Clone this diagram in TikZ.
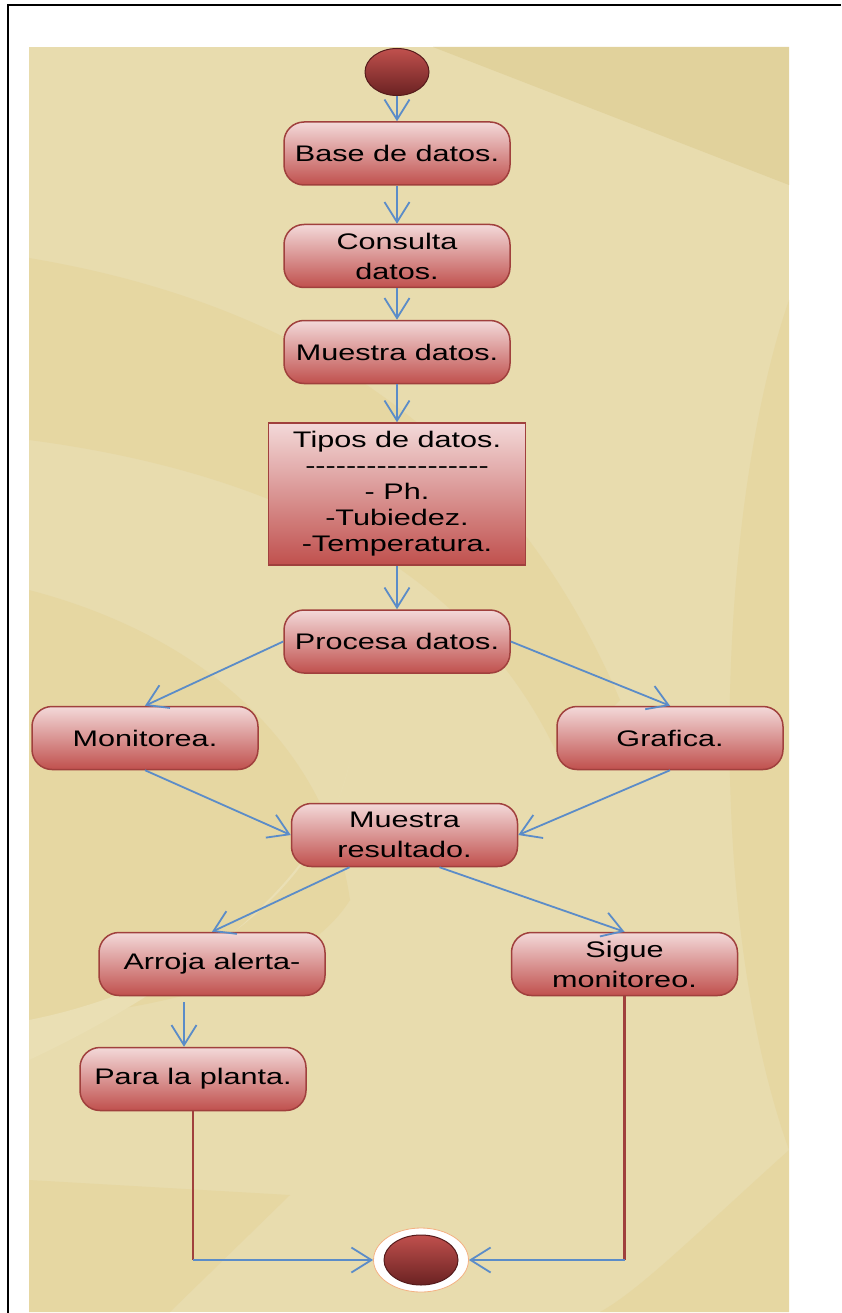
\documentclass[tikz,border=0pt]{standalone}
\usepackage{fontspec}
\newfontfamily\diafont[FakeStretch=1.36,Ligatures=TeXOff]{Liberation Sans}
\usetikzlibrary{arrows.meta,shapes.geometric,calc}
\definecolor{panel}{HTML}{E8DCAE}
\definecolor{bgdark}{HTML}{E1D29C}
\definecolor{bgmid}{HTML}{E6D7A2}
\definecolor{bglight}{HTML}{EADFB4}
\definecolor{acttop}{HTML}{F3D9D9}
\definecolor{actbot}{HTML}{C0504D}
\definecolor{actborder}{HTML}{A0403D}
\definecolor{flowblue}{HTML}{5B8CC8}
\definecolor{darkred}{HTML}{A0403D}
\definecolor{balltop}{HTML}{C0504D}
\definecolor{ballbot}{HTML}{6A2222}
\definecolor{ringcol}{HTML}{F4B183}
\tikzset{
  act/.style={rectangle, rounded corners=20pt, draw=actborder, line width=1.5pt,
    top color=acttop, bottom color=actbot, minimum width=226pt, minimum height=63pt,
    inner sep=0pt, align=center, text=black,
    font=\diafont\fontsize{22.5}{30}\selectfont},
  typebox/.style={rectangle, draw=actborder, line width=1.5pt,
    top color=acttop, bottom color=actbot, minimum width=257pt, minimum height=142pt,
    inner sep=0pt, align=center, text=black,
    font=\diafont\fontsize{22.5}{26}\selectfont},
  ball/.style={ellipse, draw=ballbot!80!black, line width=1pt, top color=balltop,
    bottom color=ballbot, inner sep=0pt},
  flow/.style={draw=flowblue, line width=1.8pt,
    -{Straight Barb[length=20pt,width=25pt]}},
  redline/.style={draw=darkred, line width=2.2pt},
}
\begin{document}
\begin{tikzpicture}[x=1pt,y=-1pt]
\useasboundingbox (0,0) rectangle (841,1313);
% frame
\draw[line width=2.5pt, black] (8,1313) -- (8,5) -- (841,5);
% panel
\fill[panel] (29,47) rectangle (789,1312);
\begin{scope}
\clip (29,47) rectangle (789,1312);
\fill[bgdark] (433,47) -- (789,47) -- (789,185) -- cycle;
\fill[bgmid] (29,258) .. controls (280,300) and (500,420) .. (620,700)
  -- (560,760) .. controls (470,560) and (260,470) .. (29,440) -- cycle;
\fill[bgmid] (29,590) .. controls (220,640) and (330,760) .. (350,900)
  .. controls (300,980) and (150,1010) .. (29,1020) -- cycle;
\fill[bglight] (29,1020) .. controls (180,990) and (320,900) .. (350,760)
  .. controls (330,870) and (200,980) .. (29,1060) -- cycle;
\fill[bgmid] (29,1180) -- (290,1195) -- (170,1312) -- (29,1312) -- cycle;
\fill[bgmid] (789,300) .. controls (720,500) and (700,900) .. (789,1150) -- cycle;
\fill[bgmid] (789,1150) .. controls (700,1230) and (640,1290) .. (600,1312) -- (789,1312) -- cycle;
\end{scope}
% nodes
\node[ball, minimum width=64pt, minimum height=47pt] (start) at (397,72) {};
\node[act] (base) at (397,153.5) {Base de datos.};
\node[act] (consulta) at (397,256) {Consulta\\datos.};
\node[act] (muestra) at (397,352) {Muestra datos.};
\node[typebox] (tipos) at (397,494) {Tipos de datos.\\------------------\\- Ph.\\-Tubiedez.\\-Temperatura.};
\node[act] (procesa) at (397,641.5) {Procesa datos.};
\node[act] (monitorea) at (145,738) {Monitorea.};
\node[act] (grafica) at (670,738) {Grafica.};
\node[act] (resultado) at (404.5,835) {Muestra\\resultado.};
\node[act] (arroja) at (212,964) {Arroja alerta-};
\node[act] (sigue) at (624.5,964) {Sigue\\monitoreo.};
\node[act] (para) at (193,1079) {Para la planta.};
\node[ellipse, fill=white, draw=ringcol, line width=0.8pt, minimum width=95pt,
  minimum height=64pt, inner sep=0pt] (fin) at (421,1260) {};
\node[ball, minimum width=74pt, minimum height=50pt] (fincore) at (421,1260) {};
% connectors
\draw[flow] (start) -- (base);
\draw[flow] (base) -- (consulta);
\draw[flow] (consulta) -- (muestra);
\draw[flow] (muestra) -- (tipos);
\draw[flow] (tipos) -- (procesa);
\draw[flow] (procesa.west) -- (monitorea.north);
\draw[flow] (procesa.east) -- (grafica.north);
\draw[flow] (monitorea.south) -- (resultado.west);
\draw[flow] (grafica.south) -- (resultado.east);
\coordinate (r1) at ($(resultado.south)+(-55,0)$);
\coordinate (r2) at ($(resultado.south)+(35,0)$);
\draw[flow] (r1) -- (arroja.north);
\draw[flow] (r2) -- (sigue.north);
\coordinate (a1) at ($(arroja.south)+(-28,6)$);
\draw[flow] (a1) -- (a1 |- para.north);
\coordinate (p1) at (para.south |- fin.center);
\coordinate (s1) at (sigue.south |- fin.center);
\draw[redline] (para.south) -- (p1);
\draw[redline] (sigue.south) -- (s1);
\draw[flow] (p1) -- (fin.west);
\draw[flow] (s1) -- (fin.east);
\end{tikzpicture}
\end{document}
